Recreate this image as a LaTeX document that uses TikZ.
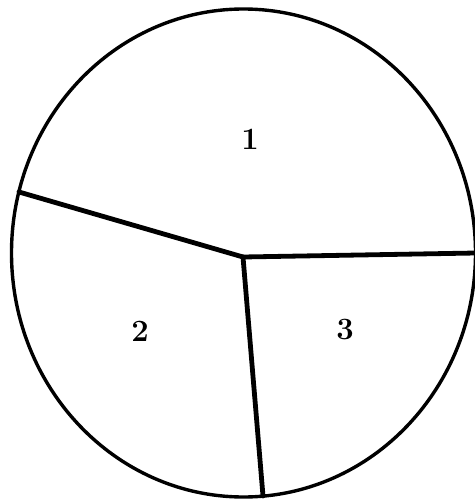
\documentclass[tikz,border=0pt]{standalone}
\usepackage{fontspec}
\begin{document}
\begin{tikzpicture}[x=1pt,y=-1pt]
\tikzset{
  rim/.style={line width=3.4pt, black},
  divider/.style={line width=4.8pt, black, line cap=round},
  regionlabel/.style={font=\bfseries\fontsize{31}{34}\selectfont}
}
% Fix the page to the size of the reference
\useasboundingbox (0,0) rectangle (474,502);
% Outer ellipse
\draw[rim] (243.5,253) ellipse [x radius=232pt, y radius=244pt];
% Meeting point of the three dividers and their ends on the rim
\coordinate (hub) at (243,257);
\coordinate (leftend) at (19,192);
\coordinate (rightend) at (476,253);
\coordinate (bottomend) at (263,496);
% Dividers
\draw[divider] (hub) -- (leftend);
\draw[divider] (hub) -- (rightend);
\draw[divider] (hub) -- (bottomend);
% Region numbers
\node[regionlabel] (one) at (250,139) {1};
\node[regionlabel] (two) at (140,331) {2};
\node[regionlabel] (three) at (345,330) {3};
\end{tikzpicture}
\end{document}
